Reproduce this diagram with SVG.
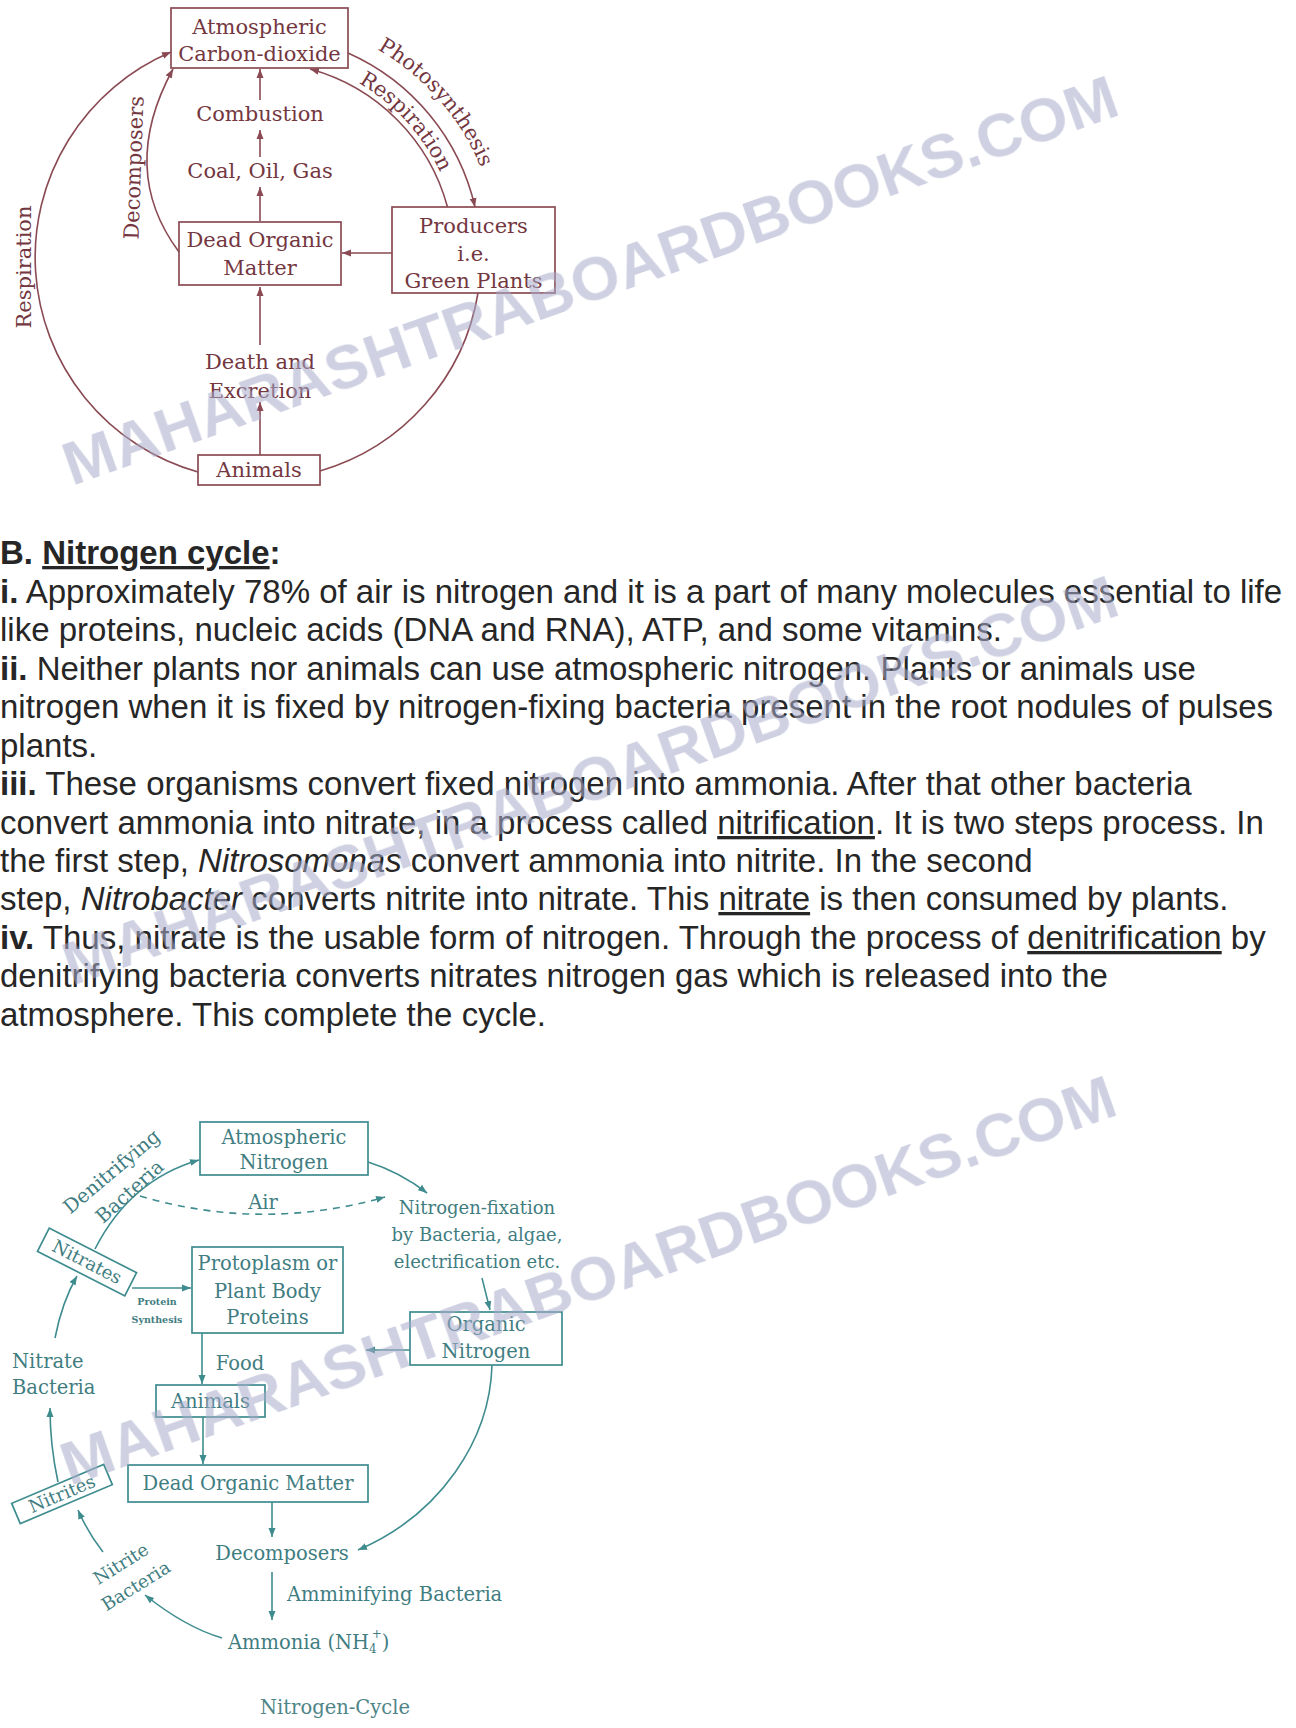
<svg xmlns="http://www.w3.org/2000/svg" width="1296" height="1728" viewBox="0 0 1296 1728">
<style>
.ct{font-family:"DejaVu Serif","Liberation Serif",serif;font-size:21px;fill:#74373f;text-anchor:middle}
.cb{fill:none;stroke:#8a4a53;stroke-width:1.7}
.cl{fill:none;stroke:#8a4a53;stroke-width:1.6}
.nt{font-family:"DejaVu Serif","Liberation Serif",serif;font-size:19.5px;fill:#3f7d81;text-anchor:middle}
.ns{font-size:18px}
.nb{fill:none;stroke:#3f8c8f;stroke-width:1.7}
.nl{fill:none;stroke:#3f8c8f;stroke-width:1.6}
.p{font-family:"Liberation Sans",Arial,sans-serif;font-size:33px;fill:#262626}
.b{font-weight:bold}
.i{font-style:italic}
.u{text-decoration:underline}
.wm{font-family:"Liberation Sans",Arial,sans-serif;font-weight:bold;font-size:62px;fill:#a8acca;opacity:.55}
</style>
<defs>
<marker id="ac" markerUnits="userSpaceOnUse" markerWidth="10" markerHeight="8" refX="9" refY="4" orient="auto"><path d="M0,0.5 L9,4 L0,7.5 z" fill="#8a4a53"/></marker>
<marker id="an" markerUnits="userSpaceOnUse" markerWidth="10" markerHeight="8" refX="9" refY="4" orient="auto"><path d="M0,0.5 L9,4 L0,7.5 z" fill="#3f8c8f"/></marker>
<path id="pPhoto" d="M362.9,41.8 A240,240 0 0,1 486.3,182.8"/>
<path id="pResp" d="M339.8,73.4 A201,201 0 0,1 448,191.6"/>
</defs>

<!-- Carbon cycle -->
<g id="carbon-connectors">
<path class="cl" d="M198,472 A223,223 0 0,1 171,52" marker-end="url(#ac)"/>
<path class="cl" d="M348,53 A223,223 0 0,1 475,207" marker-end="url(#ac)"/>
<path class="cl" d="M478,293 A223,223 0 0,1 320,471"/>
<path class="cl" d="M447.5,207 A196,196 0 0,0 310,69" marker-end="url(#ac)"/>
<path class="cl" d="M179,252 Q118,170 173,69" marker-end="url(#ac)"/>
<path class="cl" d="M260,100 L260,69" marker-end="url(#ac)"/>
<path class="cl" d="M260,157 L260,130" marker-end="url(#ac)"/>
<path class="cl" d="M260,221 L260,187" marker-end="url(#ac)"/>
<path class="cl" d="M260,345 L260,287" marker-end="url(#ac)"/>
<path class="cl" d="M260,455 L260,402" marker-end="url(#ac)"/>
<path class="cl" d="M392,253 L342,253" marker-end="url(#ac)"/>
</g>
<g id="c-atm"><rect class="cb" x="171" y="8" width="177" height="60"/><text class="ct" x="259.5" y="34">Atmospheric</text><text class="ct" x="259.5" y="61">Carbon-dioxide</text></g>
<g id="c-dom"><rect class="cb" x="179" y="222" width="162" height="63"/><text class="ct" x="260" y="247">Dead Organic</text><text class="ct" x="260" y="275">Matter</text></g>
<g id="c-prod"><rect class="cb" x="392" y="207" width="163" height="86"/><text class="ct" x="473.5" y="233">Producers</text><text class="ct" x="473.5" y="261">i.e.</text><text class="ct" x="473.5" y="288">Green Plants</text></g>
<g id="c-animals"><rect class="cb" x="198" y="455" width="122" height="30"/><text class="ct" x="259" y="477">Animals</text></g>
<g id="c-labels">
<text class="ct" x="260" y="121">Combustion</text>
<text class="ct" x="260" y="178">Coal, Oil, Gas</text>
<text class="ct" x="260" y="369">Death and</text>
<text class="ct" x="260" y="398">Excretion</text>
<text class="ct" transform="translate(31,267) rotate(-90)">Respiration</text>
<text class="ct" transform="translate(141,168) rotate(-88)">Decomposers</text>
<text class="ct"><textPath href="#pPhoto" startOffset="50%">Photosynthesis</textPath></text>
<text class="ct"><textPath href="#pResp" startOffset="50%">Respiration</textPath></text>
</g>

<!-- Paragraph -->
<g id="paragraph" class="p">
<text x="0" y="564" class="b">B. <tspan class="u">Nitrogen cycle</tspan>:</text>
<text x="0" y="603"><tspan class="b">i.</tspan> Approximately 78% of air is nitrogen and it is a part of many molecules essential to life</text>
<text x="0" y="641">like proteins, nucleic acids (DNA and RNA), ATP, and some vitamins.</text>
<text x="0" y="680"><tspan class="b">ii.</tspan> Neither plants nor animals can use atmospheric nitrogen. Plants or animals use</text>
<text x="0" y="718">nitrogen when it is fixed by nitrogen-fixing bacteria present in the root nodules of pulses</text>
<text x="0" y="757">plants.</text>
<text x="0" y="795"><tspan class="b">iii.</tspan> These organisms convert fixed nitrogen into ammonia. After that other bacteria</text>
<text x="0" y="834">convert ammonia into nitrate, in a process called <tspan class="u">nitrification</tspan>. It is two steps process. In</text>
<text x="0" y="872">the first step, <tspan class="i">Nitrosomonas</tspan> convert ammonia into nitrite. In the second</text>
<text x="0" y="910">step, <tspan class="i">Nitrobacter</tspan> converts nitrite into nitrate. This <tspan class="u">nitrate</tspan> is then consumed by plants.</text>
<text x="0" y="949"><tspan class="b">iv.</tspan> Thus, nitrate is the usable form of nitrogen. Through the process of <tspan class="u">denitrification</tspan> by</text>
<text x="0" y="987">denitrifying bacteria converts nitrates nitrogen gas which is released into the</text>
<text x="0" y="1026">atmosphere. This complete the cycle.</text>
</g>

<!-- Nitrogen cycle -->
<g id="nitrogen-connectors">
<path class="nl" d="M368,1162 Q400,1172 427,1193" marker-end="url(#an)"/>
<path class="nl" d="M482,1278 L490,1310" marker-end="url(#an)"/>
<path class="nl" d="M410,1350 L366,1350" marker-end="url(#an)"/>
<path class="nl" d="M492,1365 C490,1440 440,1515 358,1550" marker-end="url(#an)"/>
<path class="nl" d="M272,1502 L272,1537" marker-end="url(#an)"/>
<path class="nl" d="M272,1572 L272,1620" marker-end="url(#an)"/>
<path class="nl" d="M222,1638 Q185,1627 145,1595" marker-end="url(#an)"/>
<path class="nl" d="M103,1552 Q88,1533 78,1510" marker-end="url(#an)"/>
<path class="nl" d="M58,1482 Q50,1445 50,1408" marker-end="url(#an)"/>
<path class="nl" d="M55,1338 Q62,1302 77,1276" marker-end="url(#an)"/>
<path class="nl" d="M95,1249 Q130,1180 199,1160" marker-end="url(#an)"/>
<path class="nl" d="M132,1288 L191,1288" marker-end="url(#an)"/>
<path class="nl" d="M202,1333 L202,1384" marker-end="url(#an)"/>
<path class="nl" d="M203,1417 L203,1464" marker-end="url(#an)"/>
<path class="nl" d="M140,1196 Q262,1232 385,1197" stroke-dasharray="7,6" marker-end="url(#an)"/>
</g>
<g id="n-atm"><rect class="nb" x="200" y="1122" width="168" height="53"/><text class="nt" x="284" y="1144">Atmospheric</text><text class="nt" x="284" y="1169">Nitrogen</text></g>
<g id="n-proto"><rect class="nb" x="192" y="1247" width="151" height="86"/><text class="nt" x="267.5" y="1270">Protoplasm or</text><text class="nt" x="267.5" y="1298">Plant Body</text><text class="nt" x="267.5" y="1324">Proteins</text></g>
<g id="n-org"><rect class="nb" x="410" y="1312" width="152" height="53"/><text class="nt" x="486" y="1331">Organic</text><text class="nt" x="486" y="1358">Nitrogen</text></g>
<g id="n-animals"><rect class="nb" x="156" y="1385" width="109" height="32"/><text class="nt" x="210.5" y="1408">Animals</text></g>
<g id="n-dom"><rect class="nb" x="128" y="1465" width="240" height="37"/><text class="nt" x="248" y="1490">Dead Organic Matter</text></g>
<g id="n-nitrates" transform="translate(87,1262) rotate(27)"><rect class="nb" x="-49" y="-13" width="98" height="26"/><text class="nt ns" x="0" y="6">Nitrates</text></g>
<g id="n-nitrites" transform="translate(62,1494) rotate(-23)"><rect class="nb" x="-50" y="-11" width="100" height="22"/><text class="nt ns" x="0" y="6">Nitrites</text></g>
<g id="n-labels">
<text class="nt" x="263" y="1209">Air</text>
<text class="nt ns" x="477" y="1214">Nitrogen-fixation</text>
<text class="nt ns" x="477" y="1241">by Bacteria, algae,</text>
<text class="nt ns" x="477" y="1268">electrification etc.</text>
<text class="nt" x="157" y="1305" style="font-size:9.5px;font-weight:bold">Protein</text>
<text class="nt" x="157" y="1323" style="font-size:9.5px;font-weight:bold">Synthesis</text>
<text class="nt" x="240" y="1370">Food</text>
<text class="nt" x="12" y="1368" style="text-anchor:start">Nitrate</text>
<text class="nt" x="12" y="1394" style="text-anchor:start">Bacteria</text>
<text class="nt" transform="translate(112,1172) rotate(-40)" y="6">Denitrifying</text>
<text class="nt" transform="translate(130,1192) rotate(-42)" y="6">Bacteria</text>
<text class="nt ns" transform="translate(121,1564) rotate(-32)" y="6">Nitrite</text>
<text class="nt ns" transform="translate(136,1586) rotate(-32)" y="6">Bacteria</text>
<text class="nt" x="282" y="1560">Decomposers</text>
<text class="nt" x="287" y="1601" style="text-anchor:start">Amminifying Bacteria</text>
<text class="nt" x="228" y="1649" style="text-anchor:start">Ammonia (NH<tspan font-size="12" dy="4">4</tspan><tspan font-size="12" dx="-5" dy="-15">+</tspan><tspan dy="11">)</tspan></text>
<text class="nt" x="335" y="1714" style="fill:#4f8588">Nitrogen-Cycle</text>
</g>

<!-- Watermarks -->
<g id="watermarks" class="wm">
<text transform="translate(72,486) rotate(-19.5)" textLength="1114" lengthAdjust="spacingAndGlyphs">MAHARASHTRABOARDBOOKS.COM</text>
<text transform="translate(72,986) rotate(-19.5)" textLength="1114" lengthAdjust="spacingAndGlyphs">MAHARASHTRABOARDBOOKS.COM</text>
<text transform="translate(70,1486) rotate(-19.5)" textLength="1114" lengthAdjust="spacingAndGlyphs">MAHARASHTRABOARDBOOKS.COM</text>
</g>
</svg>
